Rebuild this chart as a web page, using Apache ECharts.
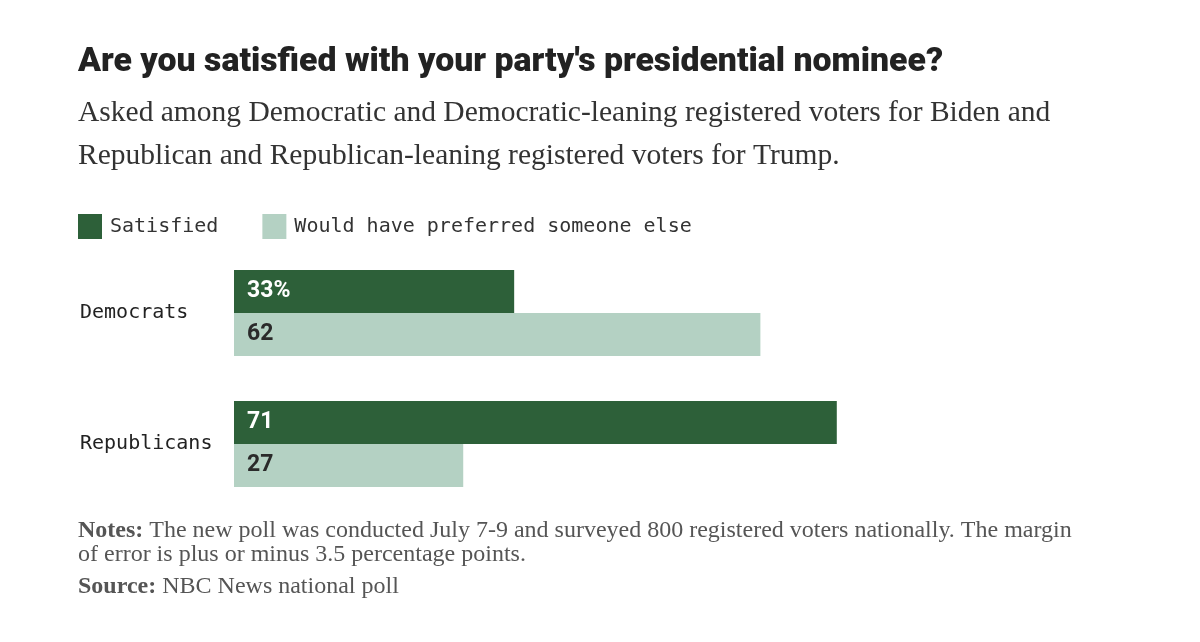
<!DOCTYPE html>
<html>
<head>
<meta charset="utf-8">
<script src="https://cdn.jsdelivr.net/npm/echarts@6/dist/echarts.min.js"></script>
<style>html,body{margin:0;padding:0;background:#fff;}#chart{width:1200px;height:642px;}</style>
</head>
<body>
<div id="chart"></div>
<script>
const categories = ['Democrats', 'Republicans'];
const satisfied = [33, 71];
const preferredElse = [62, 27];
const seriesNames = ['Satisfied', 'Would have preferred someone else'];

const titleText = "Are you satisfied with your party's presidential nominee?";
const subtitleText = "Asked among Democratic and Democratic-leaning registered voters for Biden and\nRepublican and Republican-leaning registered voters for Trump.";
const notesLines = ["The new poll was conducted July 7-9 and surveyed 800 registered voters nationally. The margin",
                    "of error is plus or minus 3.5 percentage points."];
const sourceText = "NBC News national poll";

const DARK = '#2d6039';
const LIGHT = '#b4d1c3';
const mono = '"DejaVu Sans Mono", monospace';
const serif = '"Liberation Serif", serif';

const chart = echarts.init(document.getElementById('chart'));
chart.setOption({
  backgroundColor: '#fff',
  animation: false,
  title: [
    { text: titleText, left: 78, top: 46, padding: 0,
      textStyle: { fontFamily: 'Roboto', fontWeight: 900, fontSize: 33.8, color: '#222' } },
    { text: subtitleText, left: 78, top: 91, padding: 0,
      textStyle: { fontFamily: serif, fontWeight: 'normal', fontSize: 29.5, lineHeight: 43.5, color: '#333' } },
    { text: '{b|Notes:} ' + notesLines[0] + '\n' + notesLines[1], left: 78, top: 519, padding: 0,
      textStyle: { fontFamily: serif, fontWeight: 'normal', fontSize: 24, lineHeight: 23.5, color: '#555',
        rich: { b: { fontFamily: serif, fontWeight: 'bold', fontSize: 24, lineHeight: 23.5, color: '#555' } } } },
    { text: '{b|Source:} ' + sourceText, left: 78, top: 575, padding: 0,
      textStyle: { fontFamily: serif, fontWeight: 'normal', fontSize: 24, lineHeight: 23.5, color: '#555',
        rich: { b: { fontFamily: serif, fontWeight: 'bold', fontSize: 24, lineHeight: 23.5, color: '#555' } } } }
  ],
  legend: {
    left: 78, top: 214, padding: 0,
    icon: 'rect', itemWidth: 24, itemHeight: 25, itemGap: 44,
    selectedMode: false,
    textStyle: { fontFamily: mono, fontSize: 20, color: '#333', padding: [0, 0, 0, 3] },
    data: seriesNames
  },
  grid: { left: 234, right: 117, top: 247.5, bottom: 132.5, containLabel: false },
  xAxis: { type: 'value', min: 0, max: 100, show: false },
  yAxis: {
    type: 'category', data: categories, inverse: true,
    axisLine: { show: false }, axisTick: { show: false },
    axisLabel: { align: 'left', margin: 154, fontFamily: mono, fontSize: 20, color: '#222' }
  },
  series: [
    { name: seriesNames[0], type: 'bar', data: satisfied, barWidth: 43, barGap: '0%',
      itemStyle: { color: DARK },
      label: { show: true, position: 'insideLeft', distance: 13,
        formatter: p => p.dataIndex === 0 ? p.value + '%' : String(p.value),
        fontFamily: 'Roboto', fontWeight: 'bold', fontSize: 23, color: '#fff' } },
    { name: seriesNames[1], type: 'bar', data: preferredElse, barWidth: 43, barGap: '0%',
      itemStyle: { color: LIGHT },
      label: { show: true, position: 'insideLeft', distance: 13,
        formatter: p => String(p.value),
        fontFamily: 'Roboto', fontWeight: 'bold', fontSize: 23, color: '#2a2a2a' } }
  ]
});
</script>
</body>
</html>
